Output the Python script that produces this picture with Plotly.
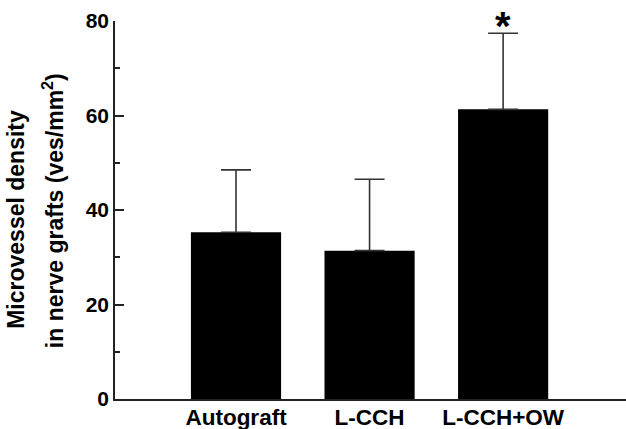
import plotly.graph_objects as go

categories = ["Autograft", "L-CCH", "L-CCH+OW"]
means = [35.3, 31.4, 61.3]
errors = [13.2, 15.1, 16.1]
y_ticks = [0, 20, 40, 60, 80]
sig_marks = ["", "", "*"]
y_title_lines = ["Microvessel density", "in nerve grafts (ves/mm<sup>2</sup>)"]

FAM = "Arial, Liberation Sans, sans-serif"

fig = go.Figure()
fig.add_trace(go.Bar(
    x=list(range(len(categories))), y=means,
    width=0.675,
    marker=dict(color="black", line=dict(width=0)),
    error_y=dict(type="data", array=errors, symmetric=False, arrayminus=[0]*3,
                 color="#333333", thickness=1.6, width=15),
))

for i, m in enumerate(sig_marks):
    if m:
        fig.add_annotation(x=i, y=means[i] + errors[i], text="<b>" + m + "</b>",
                           showarrow=False, yanchor="bottom", yshift=-17,
                           font=dict(size=40, color="black", family=FAM))

# y-axis title as two rotated lines (wider line spacing than plotly's <br>)
title_pos = [(16, 0.474), (53, 0.497)]  # (pixel x centre, paper y centre)
for line, (px, py) in zip(y_title_lines, title_pos):
    fig.add_annotation(xref="paper", yref="paper", x=0, xshift=px - 115, y=py,
                       xanchor="center", yanchor="middle", textangle=-90,
                       text="<b>" + line + "</b>", showarrow=False,
                       font=dict(size=23, color="black", family=FAM))

fig.update_layout(
    width=626, height=429,
    margin=dict(l=115, r=0, t=21, b=30, autoexpand=False),
    paper_bgcolor="white", plot_bgcolor="white",
    showlegend=False,
    font=dict(family=FAM, size=18, color="black"),
    xaxis=dict(
        range=[-0.906, 2.92], automargin=False,
        tickmode="array", tickvals=list(range(len(categories))),
        ticktext=["<b>%s</b>" % c for c in categories],
        showline=True, linecolor="#222222", linewidth=1.5,
        ticks="", showgrid=False, zeroline=False,
        tickfont=dict(size=22.5), ticklabelstandoff=-3,
    ),
    yaxis=dict(
        range=[0, 80], automargin=False,
        tickmode="array", tickvals=y_ticks,
        ticktext=["<b>%d</b>" % v for v in y_ticks],
        showline=True, linecolor="#222222", linewidth=1.5,
        ticks="inside", ticklen=9, tickwidth=1.5, tickcolor="#222222",
        minor=dict(ticks="inside", ticklen=5, tickwidth=1.5, tickcolor="#222222", dtick=10, tick0=0),
        showgrid=False, zeroline=False,
        tickfont=dict(size=21),
    ),
)

fig.write_html("out.html", config={"displayModeBar": False},
               post_script="document.body.style.margin='0';")
